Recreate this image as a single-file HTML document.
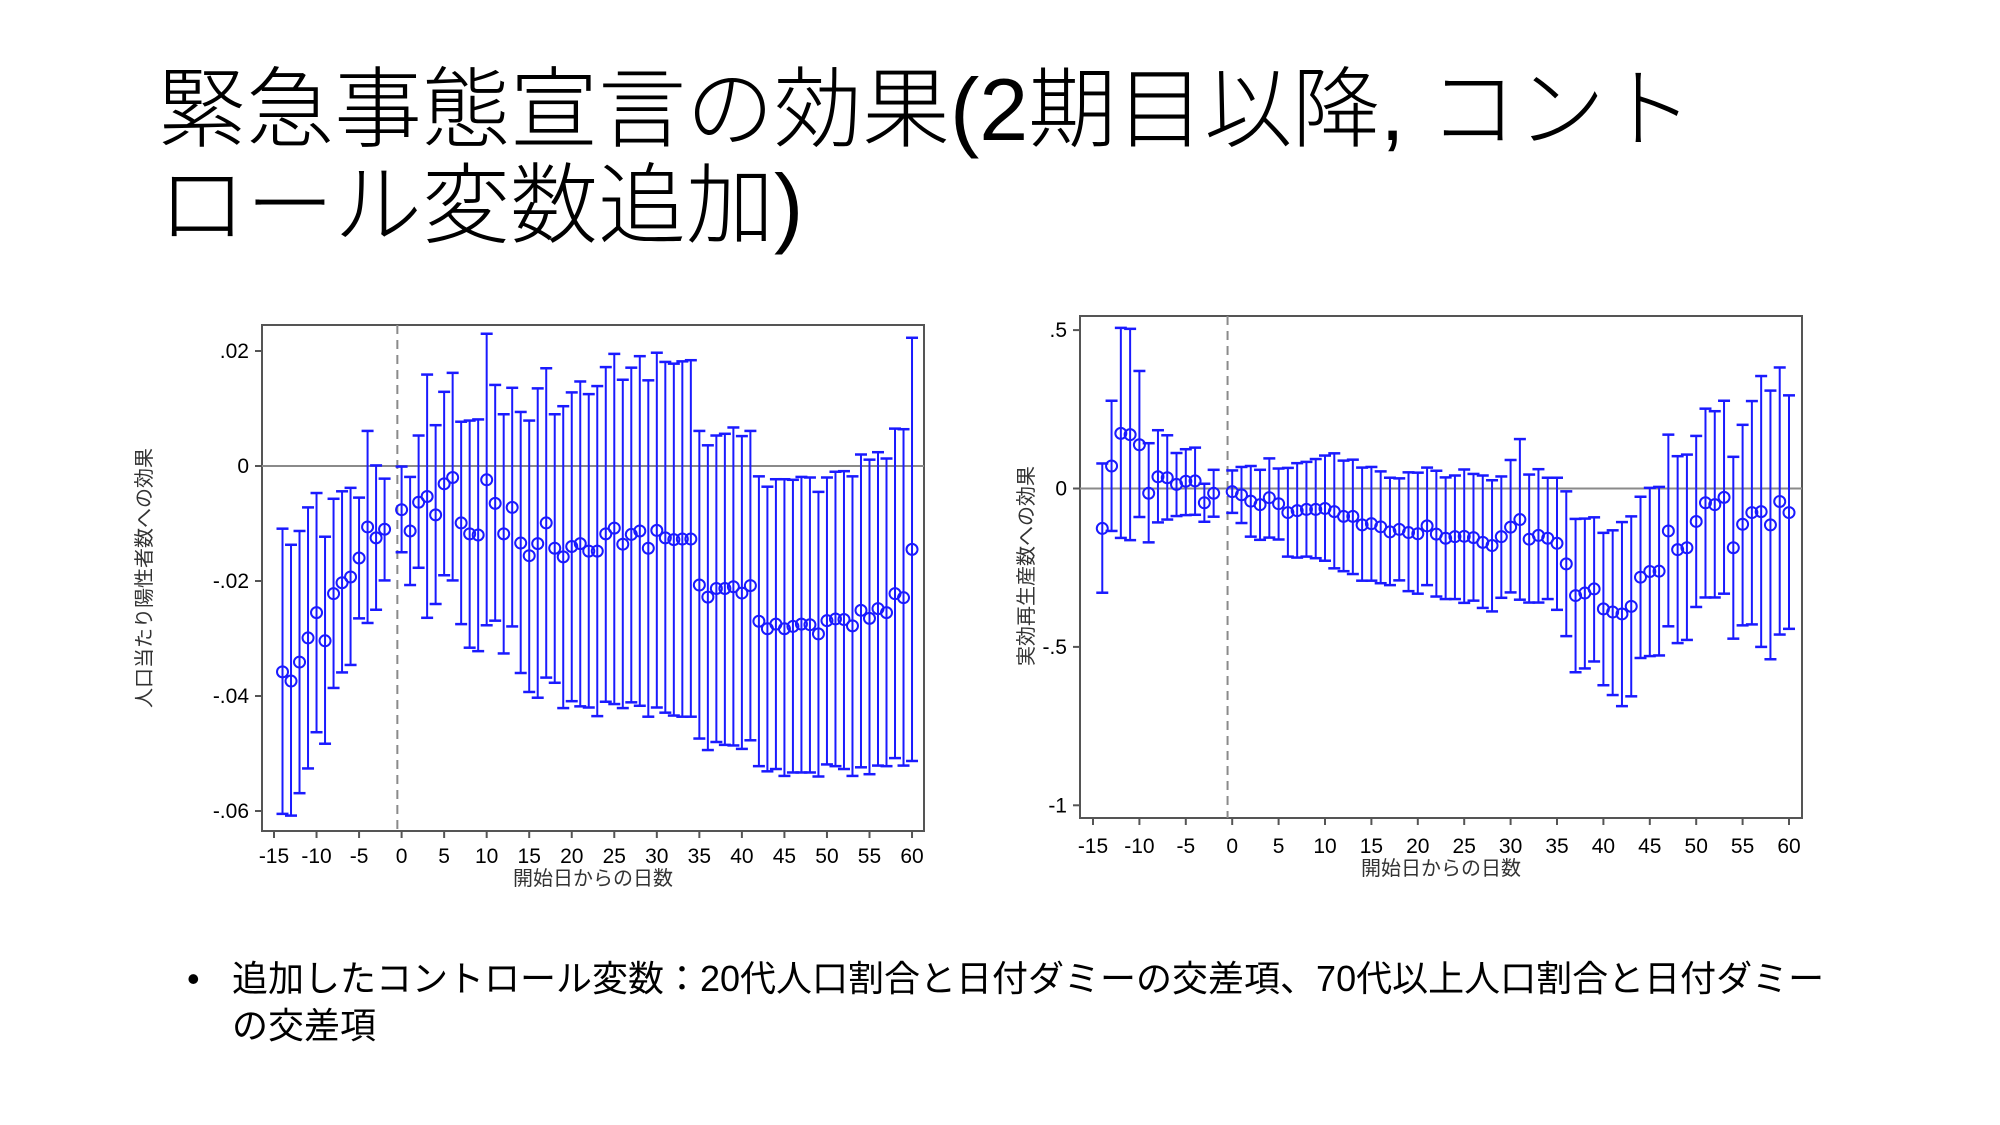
<!DOCTYPE html>
<html><head><meta charset="utf-8">
<style>
html,body{margin:0;padding:0;background:#fff;}
#page{position:relative;width:2000px;height:1125px;overflow:hidden;background:#fff;font-family:"Liberation Sans","Noto Sans CJK JP",sans-serif;}
.title{position:absolute;left:158px;font-size:88px;line-height:95px;color:#000;white-space:nowrap;font-family:"Liberation Sans","Noto Sans CJK JP",sans-serif;font-weight:300;}
.bullet{position:absolute;left:187px;top:955px;font-size:36px;line-height:47px;color:#000;font-family:"Liberation Sans","Noto Sans CJK JP",sans-serif;}
svg text{font-family:"Liberation Sans","Noto Sans CJK JP",sans-serif;}
</style></head>
<body>
<div id="page">
<div class="title" style="top:62px">緊急事態宣言の効果(2期目以降, コント</div>
<div class="title" style="top:158px">ロール変数追加)</div>
<div class="bullet"><span style="position:absolute;left:0;top:0">•</span><div style="margin-left:45px;width:1620px">追加したコントロール変数：20代人口割合と日付ダミーの交差項、70代以上人口割合と日付ダミーの交差項</div></div>
<svg id="charts" width="2000" height="1125" style="position:absolute;left:0;top:0"></svg>
</div>
<script>
const days=[-14,-13,-12,-11,-10,-9,-8,-7,-6,-5,-4,-3,-2,0,1,2,3,4,5,6,7,8,9,10,11,12,13,14,15,16,17,18,19,20,21,22,23,24,25,26,27,28,29,30,31,32,33,34,35,36,37,38,39,40,41,42,43,44,45,46,47,48,49,50,51,52,53,54,55,56,57,58,59,60];
const xTicks=[-15,-10,-5,0,5,10,15,20,25,30,35,40,45,50,55,60];
const leftYTicks=[0.02,0,-0.02,-0.04,-0.06];
const leftYTickLabels=[".02","0","-.02","-.04","-.06"];
const rightYTicks=[0.5,0,-0.5,-1];
const rightYTickLabels=[".5","0","-.5","-1"];
const leftEst=[-.0358,-.0374,-.0341,-.0299,-.0255,-.0304,-.0222,-.0203,-.0193,-.0160,-.0106,-.0125,-.0110,-.0076,-.0113,-.0063,-.0053,-.0085,-.0031,-.0020,-.0099,-.0118,-.0120,-.0024,-.0065,-.0118,-.0072,-.0134,-.0156,-.0135,-.0099,-.0143,-.0158,-.0140,-.0135,-.0148,-.0148,-.0118,-.0108,-.0136,-.0119,-.0113,-.0143,-.0112,-.0125,-.0128,-.0127,-.0127,-.0207,-.0228,-.0213,-.0213,-.0210,-.0221,-.0208,-.0270,-.0283,-.0275,-.0283,-.0279,-.0275,-.0276,-.0292,-.0269,-.0266,-.0267,-.0278,-.0251,-.0265,-.0248,-.0255,-.0222,-.0229,-.0145];
const leftUpper=[-.0109,-.0137,-.0113,-.0072,-.0047,-.0123,-.0057,-.0044,-.0038,-.0055,.0061,.0001,-.0022,-.0001,-.0019,.0053,.0159,.0071,.0129,.0162,.0077,.0079,.0081,.0230,.0141,.0090,.0136,.0094,.0079,.0135,.0170,.0090,.0104,.0128,.0147,.0125,.0139,.0172,.0195,.0150,.0171,.0191,.0149,.0197,.0181,.0178,.0182,.0184,.0061,.0036,.0053,.0056,.0067,.0052,.0061,-.0018,-.0036,-.0023,-.0023,-.0024,-.0019,-.0020,-.0045,-.0020,-.0010,-.0009,-.0018,.0020,.0011,.0024,.0013,.0065,.0064,.0223];
const leftLower=[-.0605,-.0608,-.0569,-.0526,-.0463,-.0483,-.0386,-.0359,-.0346,-.0265,-.0273,-.0250,-.0199,-.0150,-.0207,-.0177,-.0264,-.0240,-.0190,-.0199,-.0275,-.0316,-.0322,-.0277,-.0269,-.0326,-.0279,-.0360,-.0393,-.0403,-.0368,-.0377,-.0421,-.0409,-.0418,-.0420,-.0435,-.0410,-.0414,-.0421,-.0411,-.0417,-.0436,-.0420,-.0429,-.0434,-.0436,-.0436,-.0474,-.0494,-.0480,-.0485,-.0486,-.0492,-.0477,-.0522,-.0531,-.0527,-.0539,-.0533,-.0533,-.0533,-.0540,-.0519,-.0522,-.0527,-.0539,-.0524,-.0536,-.0521,-.0522,-.0508,-.0521,-.0513];
const rightEst=[-.126,.071,.174,.170,.138,-.015,.037,.034,.013,.023,.024,-.045,-.015,-.010,-.020,-.040,-.051,-.029,-.048,-.076,-.070,-.066,-.066,-.063,-.073,-.088,-.088,-.115,-.111,-.121,-.137,-.129,-.139,-.143,-.118,-.144,-.157,-.152,-.151,-.155,-.170,-.180,-.152,-.122,-.098,-.160,-.148,-.157,-.173,-.238,-.338,-.330,-.317,-.380,-.390,-.396,-.372,-.280,-.262,-.261,-.134,-.193,-.187,-.104,-.045,-.051,-.028,-.187,-.113,-.076,-.073,-.115,-.041,-.076];
const rightUpper=[.079,.277,.507,.504,.371,.143,.184,.168,.112,.124,.129,.015,.059,.057,.068,.071,.059,.095,.063,.065,.080,.084,.093,.104,.111,.088,.091,.066,.068,.054,.034,.032,.051,.050,.066,.056,.035,.041,.060,.046,.041,.026,.038,.090,.156,.044,.061,.034,.034,-.009,-.096,-.095,-.091,-.140,-.132,-.106,-.088,-.026,.002,.005,.170,.102,.107,.166,.252,.244,.277,.100,.201,.276,.355,.309,.382,.294];
const rightLower=[-.329,-.134,-.156,-.163,-.090,-.170,-.107,-.098,-.087,-.084,-.083,-.105,-.089,-.077,-.109,-.152,-.162,-.155,-.161,-.215,-.218,-.215,-.220,-.228,-.252,-.261,-.270,-.291,-.291,-.299,-.305,-.290,-.324,-.332,-.305,-.341,-.349,-.349,-.361,-.354,-.377,-.388,-.345,-.328,-.351,-.360,-.360,-.349,-.383,-.466,-.580,-.568,-.546,-.621,-.652,-.687,-.656,-.535,-.529,-.527,-.435,-.488,-.478,-.374,-.344,-.344,-.332,-.474,-.432,-.429,-.500,-.539,-.461,-.443];

const NS='http://www.w3.org/2000/svg';
const svg=document.getElementById('charts');
function mk(tag,attrs,parent){const e=document.createElementNS(NS,tag);for(const k in attrs)e.setAttribute(k,attrs[k]);(parent||svg).appendChild(e);return e;}

function drawChart(c){
  const g=mk('g',{});
  
  
  const x=d=>c.x0+(d+15)*c.dx;
  const y=v=>c.y0-v*c.sy;
  // frame
  const fr=mk('rect',{x:c.L,y:c.T,width:c.R-c.L,height:c.B-c.T,fill:'none',stroke:'#555','stroke-width':2},g);
  
  
  // zero line
  const zl=mk('line',{x1:c.L,x2:c.R,y1:y(0),y2:y(0),stroke:'#8a8a8a','stroke-width':2},g);
  
  
  // dashed line
  const dl=mk('line',{x1:x(-0.5),x2:x(-0.5),y1:c.T,y2:c.B,stroke:'#8a8a8a','stroke-width':2,'stroke-dasharray':'9,6'},g);
  
  
  // y ticks
  c.yTicks.forEach((v,i)=>{
    const t=mk('line',{x1:c.L-7,x2:c.L,y1:y(v),y2:y(v),stroke:'#555','stroke-width':2},g);
    
    
    const tl=mk('text',{x:c.L-13,y:y(v)+7,'text-anchor':'end','font-size':21,fill:'#000'},g);
    tl.textContent=c.yLabels[i];
    
    
  });
  // x ticks
  xTicks.forEach(d=>{
    const t=mk('line',{x1:x(d),x2:x(d),y1:c.B,y2:c.B+7,stroke:'#555','stroke-width':2},g);
    
    
    const tl=mk('text',{x:x(d),y:c.xLabY,'text-anchor':'middle','font-size':21,fill:'#000'},g);
    tl.textContent=String(d);
    
    
  });
  const xt=mk('text',{x:(c.L+c.R)/2,y:c.xTitleY,'text-anchor':'middle','font-size':20,fill:'#333'},g);
  xt.textContent='開始日からの日数';
  
  
  const yt=mk('text',{x:0,y:0,'text-anchor':'middle','font-size':20,fill:'#333',transform:'translate('+c.yTitleX+','+c.yTitleY+') rotate(-90)'},g);
  yt.textContent=c.yTitle;
  
  
  // series
  days.forEach((d,i)=>{
    const px=x(d),yu=y(c.up[i]),yl=y(c.lo[i]),yc=y(c.est[i]);
    const bar=mk('line',{x1:px,x2:px,y1:yu,y2:yl,stroke:'#1a1aff','stroke-width':2},g);
    
    
    const cu=mk('line',{x1:px-6,x2:px+6,y1:yu,y2:yu,stroke:'#1a1aff','stroke-width':2.5},g);
    
    
    const cl=mk('line',{x1:px-6,x2:px+6,y1:yl,y2:yl,stroke:'#1a1aff','stroke-width':2.5},g);
    
    
    const pt=mk('circle',{cx:px,cy:yc,r:5.5,fill:'none',stroke:'#1a1aff','stroke-width':2},g);
    
    
  });
}
drawChart({name:'left-chart',L:262,R:924,T:325,B:831,x0:274,dx:8.507,y0:466,sy:5750,
  yTicks:leftYTicks,yLabels:leftYTickLabels,est:leftEst,up:leftUpper,lo:leftLower,
  xLabY:863,xTitleY:885,yTitleX:151,yTitleY:578,yTitle:'人口当たり陽性者数への効果'});
drawChart({name:'right-chart',L:1080,R:1802,T:316,B:818,x0:1093,dx:9.28,y0:488.5,sy:316.8,
  yTicks:rightYTicks,yLabels:rightYTickLabels,est:rightEst,up:rightUpper,lo:rightLower,
  xLabY:853,xTitleY:875,yTitleX:1033,yTitleY:566,yTitle:'実効再生産数への効果'});
</script>
</body></html>
